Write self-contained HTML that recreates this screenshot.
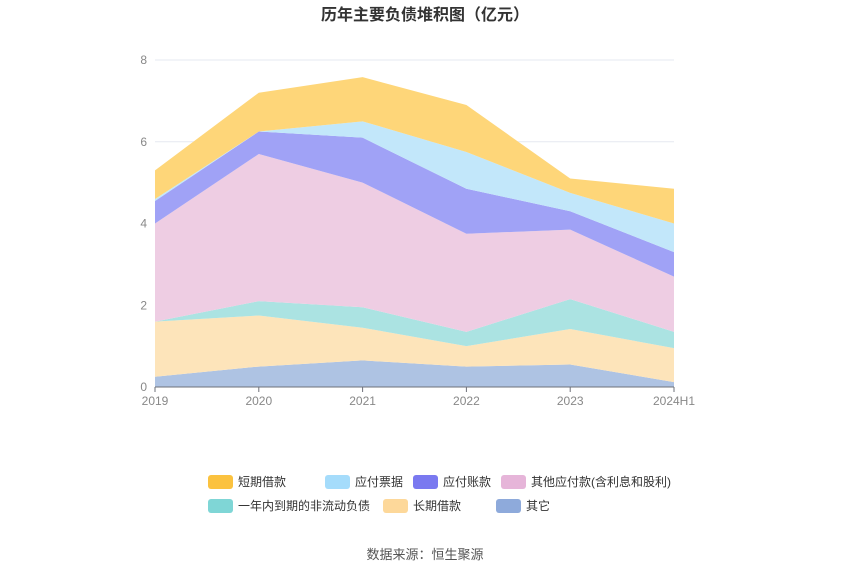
<!DOCTYPE html>
<html><head><meta charset="utf-8"><style>
body{margin:0;background:#fff;font-family:"Liberation Sans","Noto Sans CJK SC",sans-serif}
</style></head><body>
<svg id="c" width="850" height="575" xmlns="http://www.w3.org/2000/svg">
<text x="425" y="20" text-anchor="middle" font-size="16" font-weight="bold" fill="#333">历年主要负债堆积图（亿元）</text>
<g id="grid"></g><g id="areas"></g><g id="axes"></g><g id="legend"></g>
<text x="425" y="559" text-anchor="middle" font-size="13" fill="#555">数据来源：恒生聚源</text>
</svg>
<script>
const categories=["2019","2020","2021","2022","2023","2024H1"];
const seriesNames=["其它","长期借款","一年内到期的非流动负债","其他应付款(含利息和股利)","应付账款","应付票据","短期借款"];
const qita=[0.25,0.5,0.65,0.5,0.55,0.12];
const changqi=[1.35,1.25,0.8,0.5,0.87,0.83];
const yinian=[0,0.35,0.5,0.35,0.73,0.4];
const qitayingfu=[2.4,3.6,3.05,2.4,1.7,1.35];
const yingfuzhang=[0.55,0.55,1.1,1.1,0.45,0.6];
const yingfupiao=[0.05,0,0.4,0.9,0.45,0.7];
const duanqi=[0.7,0.95,1.08,1.15,0.35,0.85];
const yTicks=[0,2,4,6,8];
const series=[qita,changqi,yinian,qitayingfu,yingfuzhang,yingfupiao,duanqi];
const fills=["#aec3e3","#fde4ba","#abe3e2","#eecde3","#a0a2f6","#c2e7fa","#fed679"];
const legendColors=["#8eaadb","#fdd89a","#7fd6d6","#e6b5d9","#7a79f0","#a5dcfb","#fbc23f"];
const slugs=["other","long-term-loan","current-noncurrent","other-payables","accounts-payable","notes-payable","short-term-loan"];
const NS="http://www.w3.org/2000/svg";
const x0=155,x1=674,y0=387,yTop=60,yMax=8;
const xs=i=>x0+(x1-x0)*i/(categories.length-1);
const ys=v=>y0-(y0-yTop)*v/yMax;
function mk(t,a,p){const e=document.createElementNS(NS,t);for(const k in a)e.setAttribute(k,a[k]);p.appendChild(e);return e;}
const grid=document.getElementById('grid'),axes=document.getElementById('axes'),areas=document.getElementById('areas'),leg=document.getElementById('legend');
yTicks.forEach(t=>{
  if(t>0){const l=mk('line',{x1:x0,x2:x1,y1:ys(t),y2:ys(t),stroke:'#e6e9f0'},grid);
  
  }
  const tx=mk('text',{x:147,y:ys(t)+4,'text-anchor':'end','font-size':12,fill:'#888'},axes);tx.textContent=t;
  
  
});
let base=categories.map(()=>0);
series.forEach((s,k)=>{
  const top=base.map((b,i)=>b+s[i]);
  let d='M'+top.map((v,i)=>xs(i)+','+ys(v)).join(' L');
  for(let i=categories.length-1;i>=0;i--)d+=' L'+xs(i)+','+ys(base[i]);
  const p=mk('path',{d:d+'Z',fill:fills[k]},areas);
  
  
  base=top;
});
const ax=mk('line',{x1:x0,x2:x1,y1:y0,y2:y0,stroke:'#6e7079'},axes);


categories.forEach((c,i)=>{
  const tk=mk('line',{x1:xs(i),x2:xs(i),y1:y0,y2:y0+5,stroke:'#6e7079'},axes);
  
  
  const t=mk('text',{x:xs(i),y:405,'text-anchor':'middle','font-size':12,fill:'#888'},axes);t.textContent=c;
  
  
});
const order=[6,5,4,3,2,1,0];
const pos=[[208,482],[325,482],[413,482],[501,482],[208,506],[383,506],[496,506]];
order.forEach((k,j)=>{
  const g=mk('g',{},leg);
  
  
  const [lx,ly]=pos[j];
  mk('rect',{x:lx,y:ly-7,width:25,height:14,rx:3,fill:legendColors[k]},g);
  const t=mk('text',{x:lx+30,y:ly+4,'font-size':12,fill:'#333'},g);t.textContent=seriesNames[k];
});
</script>
</body></html>
